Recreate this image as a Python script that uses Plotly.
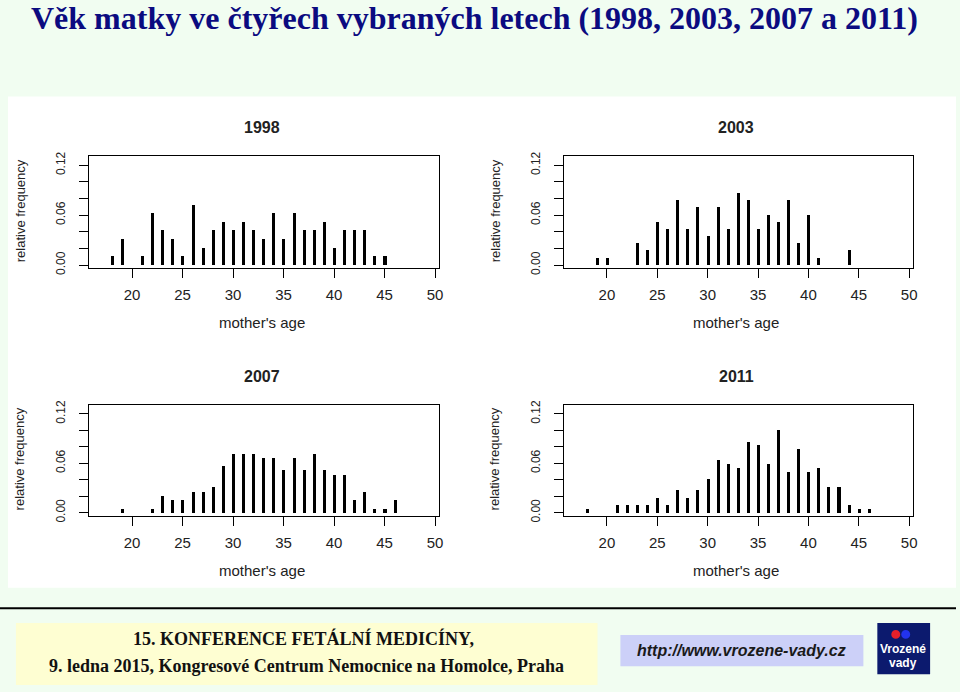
import plotly.graph_objects as go

# relative frequency of mother's age
years = ["1998", "2003", "2007", "2011"]

ages_1998 = [18, 19, 21, 22, 23, 24, 25, 26, 27, 28, 29, 30, 31, 32, 33, 34, 35, 36, 37, 38, 39, 40, 41, 42, 43, 44, 45]
freq_1998 = [0.0103, 0.0309, 0.0103, 0.0619, 0.0412, 0.0309, 0.0103, 0.0722, 0.0206, 0.0412, 0.0515, 0.0412, 0.0515, 0.0412,
             0.0309, 0.0619, 0.0309, 0.0619, 0.0412, 0.0412, 0.0515, 0.0206, 0.0412, 0.0412, 0.0412, 0.0103, 0.0103]

ages_2003 = [19, 20, 23, 24, 25, 26, 27, 28, 29, 30, 31, 32, 33, 34, 35, 36, 37, 38, 39, 40, 41, 44]
freq_2003 = [0.0086, 0.0086, 0.0259, 0.0172, 0.0517, 0.0431, 0.0776, 0.0431, 0.0690, 0.0345, 0.0690, 0.0431, 0.0862, 0.0776,
             0.0431, 0.0603, 0.0517, 0.0776, 0.0259, 0.0603, 0.0086, 0.0172]

ages_2007 = [19, 22, 23, 24, 25, 26, 27, 28, 29, 30, 31, 32, 33, 34, 35, 36, 37, 38, 39, 40, 41, 42, 43, 44, 45, 46]
freq_2007 = [0.0051, 0.0051, 0.0205, 0.0154, 0.0154, 0.0256, 0.0256, 0.0308, 0.0564, 0.0718, 0.0718, 0.0718, 0.0667, 0.0667,
             0.0513, 0.0667, 0.0513, 0.0718, 0.0513, 0.0462, 0.0462, 0.0154, 0.0256, 0.0051, 0.0051, 0.0154]

ages_2011 = [18, 21, 22, 23, 24, 25, 26, 27, 28, 29, 30, 31, 32, 33, 34, 35, 36, 37, 38, 39, 40, 41, 42, 43, 44, 45, 46]
freq_2011 = [0.0045, 0.0091, 0.0091, 0.0091, 0.0091, 0.0182, 0.0091, 0.0273, 0.0182, 0.0273, 0.0409, 0.0636, 0.0591, 0.0545,
             0.0864, 0.0818, 0.0591, 0.1000, 0.0500, 0.0773, 0.0500, 0.0545, 0.0318, 0.0318, 0.0091, 0.0045, 0.0045]

x_ticks = [20, 25, 30, 35, 40, 45, 50]
y_ticks = [0.0, 0.02, 0.04, 0.06, 0.08, 0.10, 0.12]
y_ticktext = ["0.00", "", "", "0.06", "", "", "0.12"]

W, H = 960, 692
BG = "#F1FDF1"
INK = "#222222"


def px(x):
    return x / W


def py(y):
    return 1 - y / H


def label(text, x, y, size, family="Liberation Sans", color=INK, angle=0):
    return dict(text=text, x=px(x), y=py(y), xref="paper", yref="paper",
                xanchor="center", yanchor="middle", showarrow=False, textangle=angle,
                font=dict(family=family, size=size, color=color))


# plot boxes in pixels: left, right, top, bottom
boxes = [(89, 441, 154, 268), (566, 917, 154, 268),
         (89, 441, 407, 520), (566, 917, 407, 520)]
data = [(ages_1998, freq_1998), (ages_2003, freq_2003),
        (ages_2007, freq_2007), (ages_2011, freq_2011)]

fig = go.Figure()
layout = {}
annotations = []

for n, ((ages, freq), (l, r, t, b), year) in enumerate(zip(data, boxes, years), start=1):
    sfx = "" if n == 1 else str(n)
    fig.add_trace(go.Bar(x=ages, y=freq, width=0.3, marker=dict(color="black", line=dict(width=0)),
                         xaxis="x" + sfx, yaxis="y" + sfx, showlegend=False))
    layout["xaxis" + sfx] = dict(
        domain=[px(l), px(r)], anchor="y" + sfx, range=[15.7, 50.4],
        tickvals=x_ticks, ticks="outside", ticklen=9, tickwidth=1, tickcolor="black",
        showline=True, linecolor="black", linewidth=1, mirror=True,
        showgrid=False, zeroline=False, ticklabelstandoff=4,
        tickfont=dict(family="Liberation Sans", size=15, color=INK))
    layout["yaxis" + sfx] = dict(
        domain=[py(b), py(t)], anchor="x" + sfx, range=[-0.004, 0.1307],
        tickvals=y_ticks, ticktext=y_ticktext, tickangle=-90,
        ticks="outside", ticklen=9, tickwidth=1, tickcolor="black",
        showline=True, linecolor="black", linewidth=1, mirror=True,
        showgrid=False, zeroline=False, ticklabelstandoff=9,
        tickfont=dict(family="Liberation Sans", size=12, color=INK))
    cx = (l + r) / 2
    annotations.append(label("<b>" + year + "</b>", cx - 2, t - 29, 16))
    annotations.append(label("mother's age", cx - 2, b + 55, 15))
    annotations.append(label("relative frequency", l - 69, (t + b) / 2 - 2, 13, angle=-90))

# slide title
annotations.append(label("<b>Věk matky ve čtyřech vybraných letech (1998, 2003, 2007 a 2011)</b>",
                         476, 13, 32, family="Liberation Serif", color="#0B0B80"))
# footer
annotations.append(label("<b>15. KONFERENCE FETÁLNÍ MEDICÍNY,</b>", 305, 645, 18,
                         family="Liberation Serif", color="#111111"))
annotations.append(label("<b>9. ledna 2015, Kongresové Centrum Nemocnice na Homolce, Praha</b>", 308, 673, 18,
                         family="Liberation Serif", color="#111111"))
annotations.append(label("<b><i>http://www.vrozene-vady.cz</i></b>", 745, 657, 16, color="#1a1a1a"))
annotations.append(label("<b>Vrozené</b>", 907, 655, 12, color="white"))
annotations.append(label("<b>vady</b>", 907, 670, 12, color="white"))

shapes = [
    dict(type="rect", xref="paper", yref="paper", x0=px(8), x1=1, y0=py(593), y1=py(93),
         fillcolor="white", line=dict(width=0), layer="below"),
    dict(type="line", xref="paper", yref="paper", x0=0, x1=1, y0=py(614), y1=py(614),
         line=dict(color="black", width=2)),
    dict(type="rect", xref="paper", yref="paper", x0=px(16), x1=px(600), y0=0, y1=py(629),
         fillcolor="#FEFED2", line=dict(width=0), layer="below"),
    dict(type="rect", xref="paper", yref="paper", x0=px(623), x1=px(867), y0=py(673), y1=py(641),
         fillcolor="#CCD0F8", line=dict(width=0), layer="below"),
    dict(type="rect", xref="paper", yref="paper", x0=px(881), x1=px(934), y0=py(681), y1=py(629),
         fillcolor="#0C1A6E", line=dict(width=0), layer="below"),
    dict(type="circle", xref="paper", yref="paper", x0=px(895), x1=px(904), y0=py(645), y1=py(636),
         fillcolor="#E8202A", line=dict(width=0)),
    dict(type="circle", xref="paper", yref="paper", x0=px(905), x1=px(914), y0=py(645), y1=py(636),
         fillcolor="#2233EE", line=dict(width=0)),
]

# no fixed width/height: the figure fills whatever the window really is
fig.update_layout(autosize=True, margin=dict(l=0, r=0, t=0, b=0),
                  paper_bgcolor=BG, plot_bgcolor="white", bargap=0,
                  annotations=annotations, shapes=shapes, **layout)

fig.write_html("out.html", config={"displayModeBar": False, "responsive": True},
               default_width="100vw", default_height="100vh",
               post_script="document.body.style.margin='0';document.body.style.overflow='hidden';"
                           "Plotly.Plots.resize(document.getElementById('{plot_id}'));")
